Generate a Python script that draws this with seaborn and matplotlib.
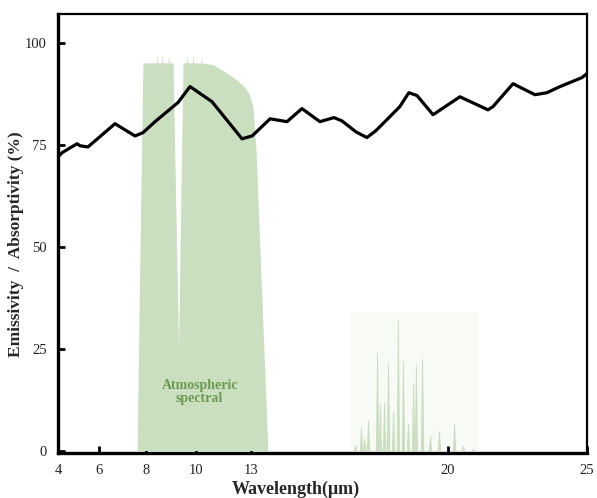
import numpy as np
import pandas as pd
import matplotlib
matplotlib.use("Agg")
import matplotlib.pyplot as plt
import seaborn as sns

# Emissivity curve (wavelength in um, value in %)
wl = [4.00, 4.20, 4.93, 5.07, 5.46, 6.68, 7.53, 7.87, 8.36, 9.28, 9.76, 10.87,
      12.51, 13.04, 13.68, 14.28, 14.81, 15.45, 15.95, 16.23, 16.73, 17.12,
      17.44, 17.86, 18.29, 18.61, 18.90, 19.47, 20.43, 21.44, 21.62, 22.34,
      23.13, 23.56, 24.03, 24.64, 24.82, 25.00]
emissivity = [72.0, 73.0, 75.2, 74.7, 74.4, 80.1, 77.1, 77.9, 80.6, 85.3, 89.2, 85.5,
              76.4, 77.1, 81.3, 80.6, 83.8, 80.6, 81.6, 80.8, 78.1, 76.7,
              78.4, 81.3, 84.3, 87.7, 87.0, 82.3, 86.7, 83.5, 84.3, 89.9,
              87.2, 87.7, 89.2, 90.9, 91.4, 92.4]

# Atmospheric transmittance, main window 8-13 um
atm_wl = [7.60, 7.62, 7.74, 7.87, 8.42, 8.43, 8.45, 8.47, 8.62, 8.63, 8.65, 8.67,
          8.88, 8.89, 8.91, 8.93, 9.08, 9.30, 9.48, 9.62, 9.63, 9.65, 9.67,
          9.86, 9.87, 9.89, 9.91, 10.28, 10.29, 10.31, 10.33, 10.93, 11.50,
          12.10, 12.62, 12.90, 13.07, 13.18, 13.39, 13.60, 13.62]
atm_t = [0.0, 0.0, 49.0, 95.0, 95.0, 96.5, 96.5, 95.0, 95.0, 96.5, 96.5, 95.0,
         95.0, 96.5, 96.5, 95.0, 95.0, 25.0, 95.0, 95.0, 96.5, 96.5, 95.0,
         95.0, 96.5, 96.5, 95.0, 95.0, 96.5, 96.5, 95.0, 94.6, 93.0,
         91.3, 89.2, 87.5, 84.3, 73.7, 36.9, 0.0, 0.0]

# Atmospheric transmittance, 16-21 um spikes
spike_wl = [16.70, 16.91, 17.02, 17.16, 17.48, 17.58, 17.73, 17.87, 18.05, 18.22,
            18.40, 18.58, 18.76, 18.86, 19.08, 19.36, 19.68, 20.22, 20.54, 20.90]
spike_t = [1.5, 6.0, 3.0, 7.4, 24.0, 11.5, 12.0, 21.6, 10.0, 32.0,
           22.0, 6.6, 16.5, 21.0, 22.6, 3.7, 4.9, 6.6, 1.2, 0.5]

xticks = [4, 6, 8, 10, 13, 20, 25]
yticks = [0, 25, 50, 75, 100]

# the original axis is not linear: where each tick sits along the axis (0-1)
tick_frac = [0.0, 0.0775, 0.1664, 0.2609, 0.3648, 0.7372, 1.0]


def fwd(x):
    return np.interp(x, xticks, tick_frac)


def inv(p):
    return np.interp(p, tick_frac, xticks)


sns.set_theme(style="ticks")
plt.rcParams['font.family'] = ['Liberation Serif', 'DejaVu Serif']

fig = plt.figure(figsize=(5.97, 4.98), dpi=100)
ax = fig.add_axes([0.0972, 0.0904, 0.8860, 0.8816])
ax.set_xscale('function', functions=(fwd, inv))

green = '#c9dfc0'

# faint backdrop behind the long-wave spikes
ax.fill_between([16.52, 21.08], 0, 34, color='#f8faf6', lw=0, zorder=0)

ax.fill_between(atm_wl, 0, atm_t, color=green, lw=0, zorder=1)

# build narrow spikes for the second window
sx, sy = [], []
for w, t in zip(spike_wl, spike_t):
    sx += [w - 0.06, w - 0.015, w + 0.015, w + 0.06]
    sy += [0, t, t, 0]
ax.fill_between(sx, 0, sy, color=green, lw=0, zorder=1)

df = pd.DataFrame({'wl': wl, 'emissivity': emissivity})
sns.lineplot(data=df, x='wl', y='emissivity', color='black', linewidth=2.3,
             ax=ax, zorder=3)

ax.text(10.2, 14.3, 'Atmospheric\nspectral', color='#6b9a50', fontsize=10,
        fontweight='bold', ha='center', va='center', linespacing=1.0)

ax.set_xlim(4, 25)
ax.set_ylim(-0.6, 107)
ax.set_xticks(xticks)
ax.set_xticklabels([str(t) for t in xticks])
ax.set_yticks(yticks)
ax.set_yticklabels([str(t) for t in yticks])
ax.minorticks_off()
ax.tick_params(direction='in', length=5, width=2, labelsize=10.5, pad=8,
               color='black', labelcolor='#222222')

ax.set_xlabel('Wavelength(μm)', fontsize=13, fontweight='bold')
ax.xaxis.set_label_coords(0.45, -0.062)
ax.set_ylabel('Emissivity  /  Absorptivity (%)', fontsize=12.5,
              fontweight='bold')
ax.yaxis.set_label_coords(-0.064, 0.476)

for side in ['left', 'bottom']:
    ax.spines[side].set_linewidth(2.4)
for side in ['top', 'right']:
    ax.spines[side].set_linewidth(1.6)
for s in ax.spines.values():
    s.set_color('black')

fig.savefig('out.png', dpi=100)
